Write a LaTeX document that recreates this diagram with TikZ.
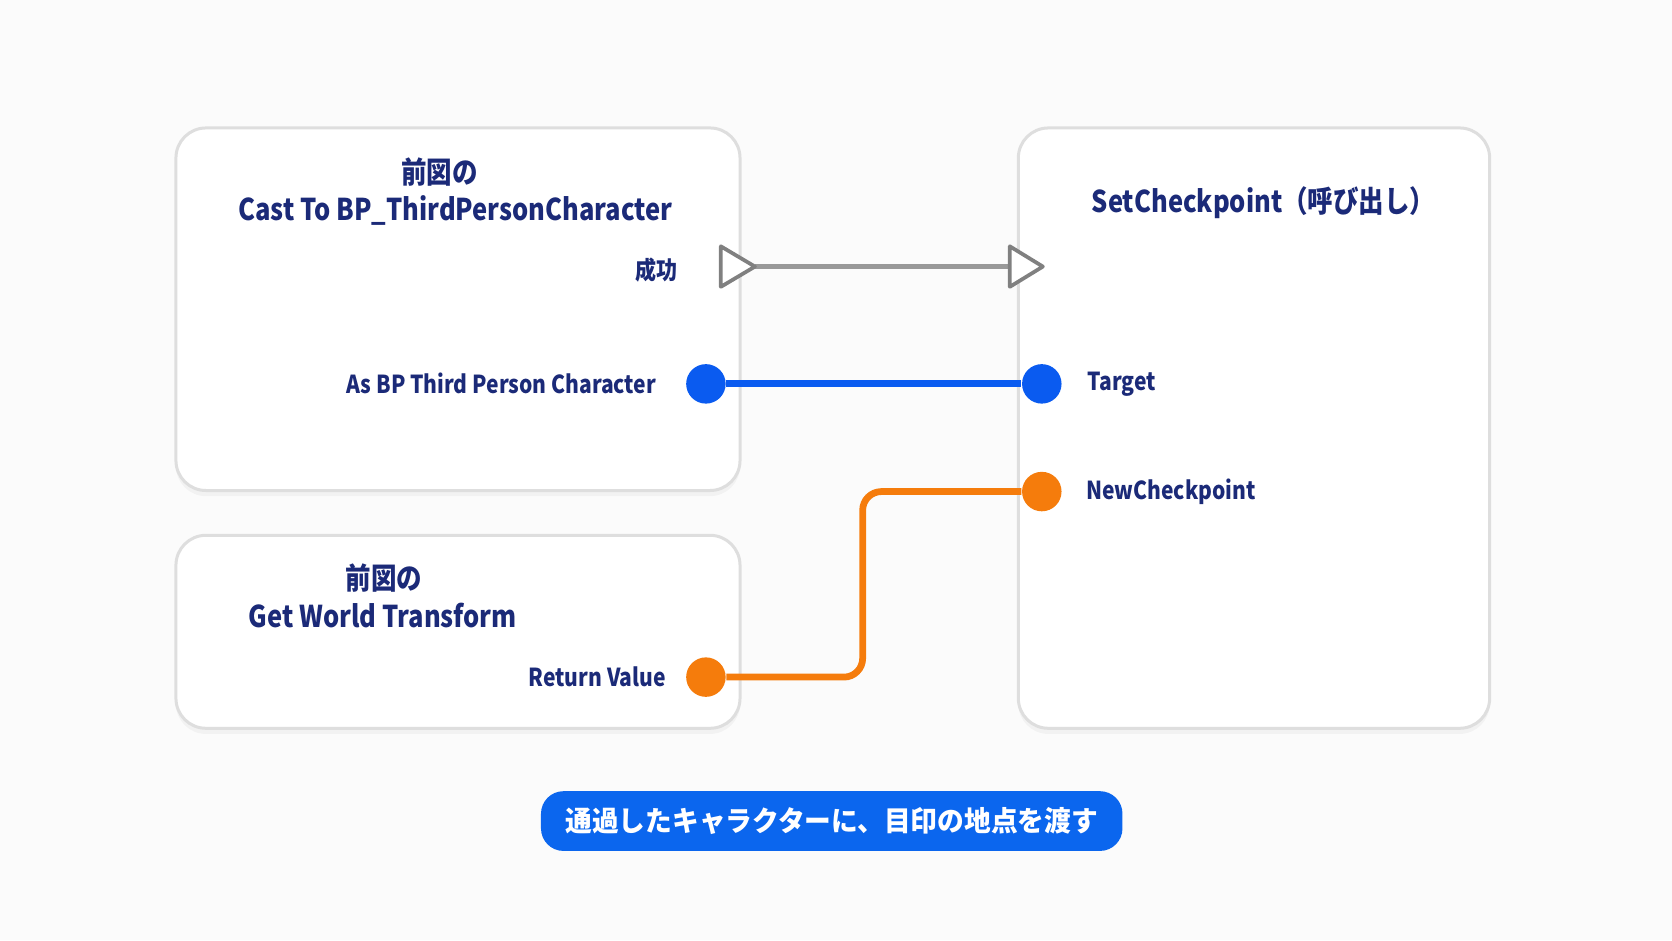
\documentclass[tikz,border=0pt]{standalone}
\usepackage{fontspec}
\setmainfont{Noto Sans CJK JP}
\usetikzlibrary{shadows}
\definecolor{navy}{HTML}{1B2A78}
\definecolor{pinblue}{HTML}{0A5BF0}
\definecolor{pinorange}{HTML}{F57C0C}
\definecolor{capblue}{HTML}{0B66EE}
\newcommand{\nw}[1]{\scalebox{0.85}[1]{#1}}
\begin{document}
\begin{tikzpicture}[x=0.01cm,y=-0.01cm,
  box/.style={draw=black!13,line width=0.8pt,fill=white,rounded corners=8pt,drop shadow={opacity=0.07,shadow xshift=0pt,shadow yshift=-1.5pt}},
  t/.style={text=navy,font=\fontsize{8}{10}\selectfont\bfseries,inner sep=0pt},
  l/.style={text=navy,font=\fontsize{6.6}{8}\selectfont\bfseries,inner sep=0pt},
  pinb/.style={circle,fill=pinblue,minimum size=0.37cm,inner sep=0pt},
  pino/.style={circle,fill=pinorange,minimum size=0.37cm,inner sep=0pt},
  exec/.style={draw=black!50,fill=white,line width=1pt,line join=round}]
\fill[gray!3] (0,0) rectangle (1568,882);
\useasboundingbox (0,0) rectangle (1568,882);
\draw[box] (165,120) rectangle (694,460);
\draw[box] (165,502) rectangle (694,683);
\draw[box] (955,120) rectangle (1397,683);
\node[t] (t1a) at (412,161) {\nw{前図の}};
\node[t] (t1b) at (427,197) {\nw{Cast To BP\_ThirdPersonCharacter}};
\node[l,anchor=east] (s) at (636,253) {\nw{成功}};
\node[l,anchor=east] (as) at (616,360) {\nw{As BP Third Person Character}};
\node[t] (t2a) at (360,542) {\nw{前図の}};
\node[t] (t2b) at (359,577) {\nw{Get World Transform}};
\node[l,anchor=east] (rv) at (625,635) {\nw{Return Value}};
\node[t] (t3) at (1185,190) {\nw{SetCheckpoint（呼び出し）}};
\node[l,anchor=west] (tg) at (1019,360) {\nw{Target}};
\node[l,anchor=west] (nc) at (1018,461) {\nw{NewCheckpoint}};
\coordinate (eo) at (708,250);
\coordinate (ei) at (947,250);
\draw[black!40,line width=1.5pt] (eo) -- (ei);
\draw[exec] (676,231) -- (708,250) -- (676,269) -- cycle;
\draw[exec] (947,231) -- (978,250) -- (947,269) -- cycle;
\node[pinb] (p1) at (662,360) {};
\node[pinb] (p2) at (977,360) {};
\node[pino] (p3) at (662,635) {};
\node[pino] (p4) at (977,461) {};
\draw[pinblue,line width=1.8pt] (p1) -- (p2);
\draw[pinorange,line width=1.8pt,rounded corners=5pt] (p3) -- (809,635) -- (809,461) -- (p4);
\node[fill=capblue,rounded corners=6pt,text=white,minimum width=5.45cm,minimum height=0.56cm,font=\fontsize{7.5}{9}\selectfont\bfseries] (cap) at (780,770) {\scalebox{0.95}[1]{通過したキャラクターに、目印の地点を渡す}};
\end{tikzpicture}
\end{document}
